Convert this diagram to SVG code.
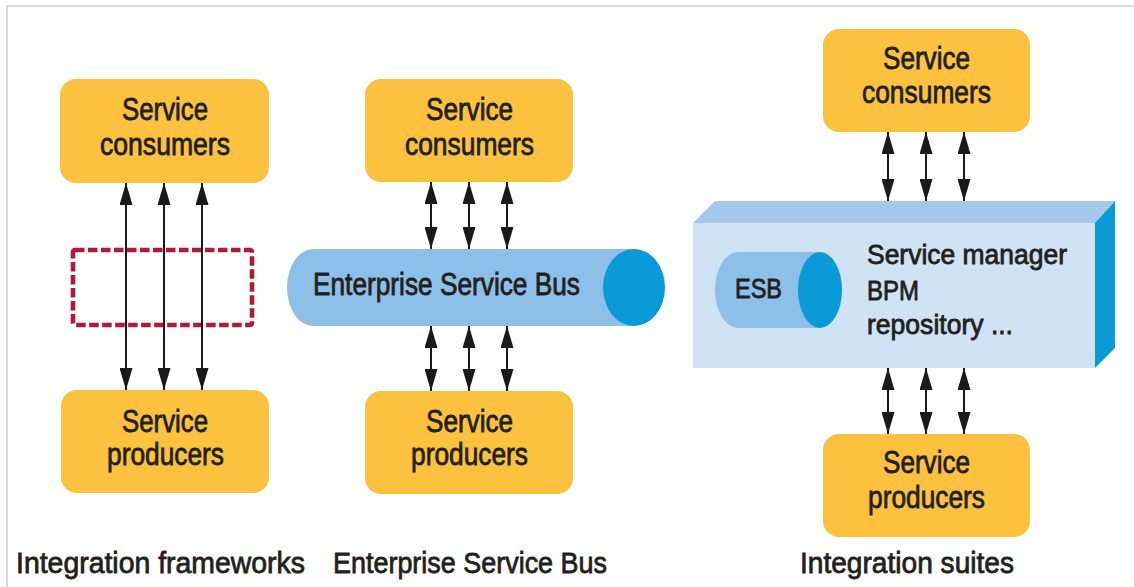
<svg xmlns="http://www.w3.org/2000/svg" width="1134" height="587" viewBox="0 0 1134 587">
  <defs>
    <style>
      .box { fill: #fcc23f; }
      .txt { font-family: "Liberation Sans", Arial, sans-serif; fill: #231f20; stroke: #231f20; stroke-width: 0.8; }
      .lbl { font-size: 32px; text-anchor: middle; }
      .cap { font-size: 30px; }
      .link { stroke: #1a1a1a; stroke-width: 2; fill: none; marker-start: url(#head); marker-end: url(#head); }
      .frame { stroke: #d9d9d9; stroke-width: 2; fill: none; }
    </style>
    <marker id="head" viewBox="0 0 22 13" markerWidth="22" markerHeight="13" refX="22" refY="6.5" orient="auto-start-reverse" markerUnits="userSpaceOnUse">
      <path d="M0,0 L22,6.5 L0,13 Z" fill="#1a1a1a"/>
    </marker>
  </defs>

  <!-- outer frame -->
  <polyline class="frame" points="7,587 7,6 1134,6"/>

  <!-- column 1: integration frameworks -->
  <g id="if-consumers">
    <rect class="box" x="60" y="79" width="209" height="104" rx="16"/>
    <text class="txt lbl" x="165" y="120" textLength="86" lengthAdjust="spacingAndGlyphs">Service</text>
    <text class="txt lbl" x="165" y="155" textLength="130" lengthAdjust="spacingAndGlyphs">consumers</text>
  </g>
  <g id="if-framework">
    <rect x="73" y="250" width="179" height="75" rx="2" fill="none" stroke="#b0193a" stroke-width="4.6" stroke-dasharray="9.5 3.5"/>
  </g>
  <g id="if-producers">
    <rect class="box" x="61" y="390" width="208" height="103" rx="16"/>
    <text class="txt lbl" x="165" y="432" textLength="86" lengthAdjust="spacingAndGlyphs">Service</text>
    <text class="txt lbl" x="165.5" y="465" textLength="117" lengthAdjust="spacingAndGlyphs">producers</text>
  </g>

  <!-- column 2: enterprise service bus -->
  <g id="esb-consumers">
    <rect class="box" x="365" y="79" width="208" height="103" rx="16"/>
    <text class="txt lbl" x="469.5" y="120" textLength="87" lengthAdjust="spacingAndGlyphs">Service</text>
    <text class="txt lbl" x="469.5" y="155" textLength="129" lengthAdjust="spacingAndGlyphs">consumers</text>
  </g>
  <g id="esb-bus">
    <path d="M313,249 H634 V326 H313 A26,38.5 0 0 1 313,249 Z" fill="#8dc0e8"/>
    <ellipse cx="634" cy="287.5" rx="31" ry="38.5" fill="#0a9ad8"/>
    <text class="txt" x="313" y="295" font-size="31" textLength="267" lengthAdjust="spacingAndGlyphs">Enterprise Service Bus</text>
  </g>
  <g id="esb-producers">
    <rect class="box" x="365" y="391" width="208" height="103" rx="16"/>
    <text class="txt lbl" x="469.5" y="432" textLength="87" lengthAdjust="spacingAndGlyphs">Service</text>
    <text class="txt lbl" x="469.5" y="465" textLength="117" lengthAdjust="spacingAndGlyphs">producers</text>
  </g>

  <!-- column 3: integration suites -->
  <g id="is-consumers">
    <rect class="box" x="823" y="29" width="207" height="103" rx="16"/>
    <text class="txt lbl" x="926.5" y="69" textLength="87" lengthAdjust="spacingAndGlyphs">Service</text>
    <text class="txt lbl" x="926.5" y="103" textLength="129" lengthAdjust="spacingAndGlyphs">consumers</text>
  </g>
  <g id="is-suite">
    <polygon points="693,223 715,201 1115,201 1095,223" fill="#a5c8ea"/>
    <polygon points="1095,223 1115,201 1115,348 1095,368" fill="#0a9ad8"/>
    <rect x="693" y="223" width="402" height="145" fill="#cfe3f4"/>
    <path d="M738,252 H820 V328 H738 A23,38 0 0 1 738,252 Z" fill="#8cc0e8"/>
    <ellipse cx="820" cy="290" rx="22" ry="38" fill="#0a9ad8"/>
    <text class="txt" x="735" y="298" font-size="28" textLength="47" lengthAdjust="spacingAndGlyphs">ESB</text>
    <text class="txt" x="867" y="264" font-size="28" textLength="200" lengthAdjust="spacingAndGlyphs">Service manager</text>
    <text class="txt" x="867" y="300" font-size="28" textLength="52" lengthAdjust="spacingAndGlyphs">BPM</text>
    <text class="txt" x="867" y="334" font-size="28" textLength="146" lengthAdjust="spacingAndGlyphs">repository ...</text>
  </g>
  <g id="is-producers">
    <rect class="box" x="823" y="434" width="207" height="103" rx="16"/>
    <text class="txt lbl" x="926.5" y="473" textLength="87" lengthAdjust="spacingAndGlyphs">Service</text>
    <text class="txt lbl" x="926.5" y="508" textLength="117" lengthAdjust="spacingAndGlyphs">producers</text>
  </g>

  <!-- connectors -->
  <g id="connectors">
    <line class="link" x1="126" y1="183" x2="126" y2="390"/>
    <line class="link" x1="164" y1="183" x2="164" y2="390"/>
    <line class="link" x1="202" y1="183" x2="202" y2="390"/>

    <line class="link" x1="431" y1="182" x2="431" y2="249"/>
    <line class="link" x1="469" y1="182" x2="469" y2="249"/>
    <line class="link" x1="507" y1="182" x2="507" y2="249"/>
    <line class="link" x1="431" y1="326" x2="431" y2="391"/>
    <line class="link" x1="469" y1="326" x2="469" y2="391"/>
    <line class="link" x1="507" y1="326" x2="507" y2="391"/>

    <line class="link" x1="888" y1="132" x2="888" y2="201"/>
    <line class="link" x1="926" y1="132" x2="926" y2="201"/>
    <line class="link" x1="964" y1="132" x2="964" y2="201"/>
    <line class="link" x1="888" y1="368" x2="888" y2="434"/>
    <line class="link" x1="926" y1="368" x2="926" y2="434"/>
    <line class="link" x1="964" y1="368" x2="964" y2="434"/>
  </g>

  <!-- column captions -->
  <g id="captions">
    <text class="txt cap" x="16" y="573" textLength="289" lengthAdjust="spacingAndGlyphs">Integration frameworks</text>
    <text class="txt cap" x="333" y="573" textLength="274" lengthAdjust="spacingAndGlyphs">Enterprise Service Bus</text>
    <text class="txt cap" x="800" y="573" textLength="214" lengthAdjust="spacingAndGlyphs">Integration suites</text>
  </g>
</svg>
